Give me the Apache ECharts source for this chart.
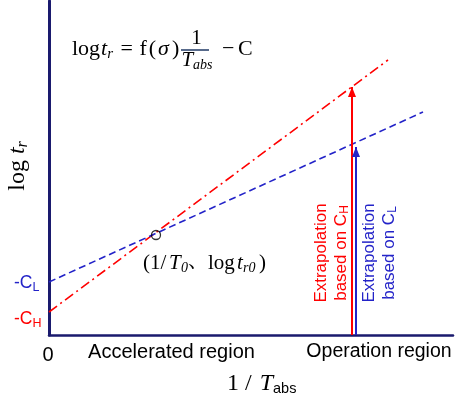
<!DOCTYPE html>
<html><head><meta charset="utf-8">
<script src="https://cdn.jsdelivr.net/npm/echarts@6/dist/echarts.min.js"></script>
<style>html,body{margin:0;padding:0;background:#fff}#c{width:457px;height:398px}</style>
</head><body><div id="c"></div>
<script>
// ---- data (schematic units) ----
const xRange = [0, 404];
const yRange = [0, 334];
const lineHigh = [[0, 23], [339, 275]];      // red dash-dot, intercept -C_H
const lineLow = [[0, 53], [374, 223]];       // blue dashed, intercept -C_L
const refPoint = [[107, 100]];               // (1/T0, log tr0)
const arrowHigh = [[303, 0], [303, 248]];    // extrapolation based on C_H
const arrowLow = [[307, 0], [307, 188]];     // extrapolation based on C_L
const regionLabels = ['Accelerated region', 'Operation region'];
const originLabel = '0';

// ---- styling ----
const RED = '#ff0000', BLUE = '#2323c8', NAVY = '#1a1a6e';
const SERIF = '"Liberation Serif", "Noto Serif CJK JP", "Noto Sans CJK JP", serif';
const SANS = '"Liberation Sans", Arial, sans-serif';
const cv = document.createElement('canvas').getContext('2d');

function txt(t, font, x, y, color, align) {
  return {type: 'text', x: x, y: y, silent: true,
    style: {text: t, font: font, fill: color || '#000', align: align || 'left', textAlign: align || 'left',
      verticalAlign: 'middle', textVerticalAlign: 'middle'}};
}
// lay out a run of segments (with sub-scripts) horizontally in local coordinates
function run(segs, x, y, color, align) {
  const ws = segs.map(s => { cv.font = s.f; return cv.measureText(s.t).width + (s.gap || 0); });
  const total = ws.reduce((a, b) => a + b, 0);
  let cx = align === 'center' ? x - total / 2 : (align === 'right' ? x - total : x);
  return segs.map((s, i) => {
    if (s.x != null) cx = s.x;
    const e = txt(s.t, s.f, cx, y + (s.dy || 0), s.c || color); cx += ws[i]; return e; });
}
const F = (size, fam, it) => (it ? 'italic ' : '') + size + 'px ' + fam;

const graphics = [];
// formula
graphics.push(...run([
  {t: 'log', f: F(22, SERIF), gap: 1}, {t: 't', f: F(22, SERIF, 1)}, {t: 'r', f: F(15, SERIF, 1), dy: 5, gap: 2},
  {t: ' = ', f: F(22, SERIF), gap: 1}, {t: 'f', f: F(22, SERIF), gap: 2}, {t: '(', f: F(22, SERIF), gap: 2},
  {t: 'σ', f: F(22, SERIF, 1), gap: 3}, {t: ')', f: F(22, SERIF)}
], 72, 49.5, '#000'));
graphics.push(txt('1', F(21, SERIF), 196.5, 38, '#000', 'center'));
graphics.push({type: 'line', silent: true, shape: {x1: 181, y1: 50, x2: 209, y2: 50}, style: {stroke: '#1f3864', lineWidth: 1.5}});
graphics.push(...run([{t: 'T', f: F(21, SERIF, 1)}, {t: 'abs', f: F(14, SERIF, 1), dy: 5}], 197, 60.5, '#000', 'center'));
graphics.push(...run([{t: '−', f: F(22, SERIF)}, {t: 'C', f: F(22, SERIF), x: 238}], 222, 49.5, '#000'));
// reference point label
graphics.push(...run([
  {t: '(1/', f: F(21, SERIF), x: 143}, {t: 'T', f: F(21, SERIF, 1), x: 169}, {t: '0', f: F(14, SERIF, 1), dy: 5, x: 181},
  {t: '、', f: F(20, SERIF), x: 188}, {t: 'log', f: F(21, SERIF), x: 208}, {t: 't', f: F(21, SERIF, 1), x: 237},
  {t: 'r0', f: F(14, SERIF, 1), dy: 5, x: 243}, {t: ')', f: F(21, SERIF), x: 259}
], 143, 263, '#000'));
// y-axis title
graphics.push({type: 'group', x: 18, y: 166, rotation: Math.PI / 2, silent: true,
  children: run([{t: 'log ', f: F(24, SERIF)}, {t: 't', f: F(24, SERIF, 1)}, {t: 'r', f: F(16, SERIF, 1), dy: 5}], 0, 0, '#000', 'center')});
// x-axis title
graphics.push(...run([{t: '1 / ', f: F(24, SERIF), gap: 2}, {t: 'T', f: F(24, SERIF, 1)}, {t: 'abs', f: F(14.5, SANS), dy: 5}], 227, 384, '#000'));
// intercept labels
graphics.push(...run([{t: '-C', f: F(17.5, SANS)}, {t: 'L', f: F(12.5, SANS), dy: 5}], 14, 283, BLUE));
graphics.push(...run([{t: '-C', f: F(17.5, SANS)}, {t: 'H', f: F(12.5, SANS), dy: 5}], 14, 319, RED));
// origin and region labels
graphics.push(txt(originLabel, F(20, SANS), 48, 355, '#000', 'center'));
graphics.push(txt(regionLabels[0], F(20, SANS), 171.5, 352, '#000', 'center'));
graphics.push(txt(regionLabels[1], F(19.5, SANS), 379, 352, '#000', 'center'));
// vertical annotations
function vblock(cx, cy, color, sub) {
  const kids = [].concat(
    run([{t: 'Extrapolation', f: F(17, SANS)}], 0, -10, color, 'center'),
    run([{t: 'based on C', f: F(17, SANS)}, {t: sub, f: F(12, SANS), dy: 4}], 0, 10, color, 'center'));
  return {type: 'group', x: cx, y: cy, rotation: Math.PI / 2, silent: true, children: kids};
}
graphics.push(vblock(331, 253, RED, 'H'));
graphics.push(vblock(379, 253, BLUE, 'L'));

const arrowData = (pts) => [{value: pts[0], symbol: 'none'},
  {value: pts[1], symbol: 'triangle', symbolSize: [8, 10], symbolOffset: [0, 5]}];

const chart = echarts.init(document.getElementById('c'), null, {renderer: 'canvas'});
chart.setOption({
  animation: false,
  backgroundColor: '#fff',
  grid: {left: 49, right: 4, top: 1, bottom: 63},
  xAxis: {type: 'value', min: xRange[0], max: xRange[1], axisLine: {show: true, lineStyle: {color: NAVY, width: 2.5}},
    axisTick: {show: false}, axisLabel: {show: false}, splitLine: {show: false}},
  yAxis: {type: 'value', min: yRange[0], max: yRange[1], axisLine: {show: true, lineStyle: {color: NAVY, width: 3}},
    axisTick: {show: false}, axisLabel: {show: false}, splitLine: {show: false}},
  series: [
    {type: 'line', data: lineHigh, symbol: 'none', silent: true, lineStyle: {color: RED, width: 1.6, type: [10, 4, 2, 4]}},
    {type: 'line', data: lineLow, symbol: 'none', silent: true, lineStyle: {color: BLUE, width: 1.6, type: [7, 4]}},
    {type: 'line', data: arrowData(arrowHigh), showSymbol: true, silent: true,
      lineStyle: {color: RED, width: 2}, itemStyle: {color: RED}},
    {type: 'line', data: arrowData(arrowLow), showSymbol: true, silent: true,
      lineStyle: {color: BLUE, width: 2}, itemStyle: {color: BLUE}},
    {type: 'scatter', data: refPoint, symbol: 'circle', symbolSize: 9, silent: true, z: 5,
      itemStyle: {color: 'rgba(0,0,0,0)', borderColor: '#000', borderWidth: 1.3}}
  ],
  graphic: {elements: graphics}
});
</script></body></html>
